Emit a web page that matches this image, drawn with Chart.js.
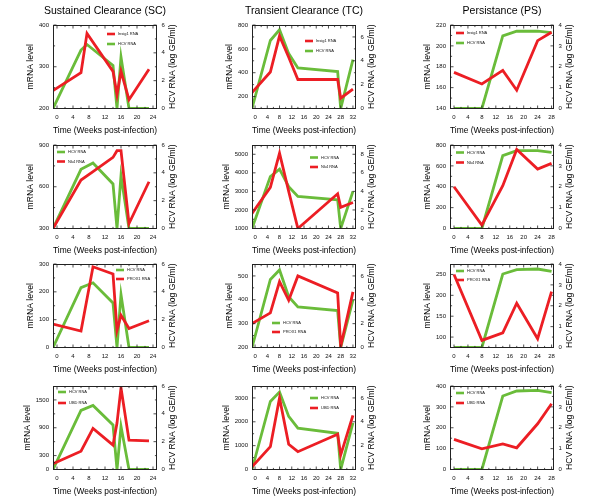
<!DOCTYPE html>
<html>
<head>
<meta charset="utf-8">
<script src="https://cdn.jsdelivr.net/npm/chart.js@4/dist/chart.umd.min.js"></script>
<style>
html, body { margin: 0; padding: 0; background: #fff; overflow: hidden; }
#wrap { position: relative; width: 600px; height: 500px; }
#wrap canvas { position: absolute; }
</style>
</head>
<body>
<div id="wrap"></div>
<script>
// time points (weeks post-infection) per group
const weeksSC1 = [-1, 6, 7.5, 14, 15, 16, 18, 23];
const weeksSC = [-1, 6, 9, 14, 15, 16, 18, 23];
const weeksTC = [-1, 5, 8, 11, 14, 27, 28, 32];
const weeksPS = [0, 8, 14, 18, 24, 28];

const xTicksSC = [0, 4, 8, 12, 16, 20, 24];
const xTicksTC = [0, 4, 8, 12, 16, 20, 24, 28, 32];
const xTicksPS = [0, 4, 8, 12, 16, 20, 24, 28];

// HCV RNA (log GE/ml), read per panel
const hcvSC1 = [0, 4.2, 4.6, 3.1, 0, 3.7, 0, 0];
const hcvSC2 = [0, 4.25, 4.7, 3.2, 0, 3.8, 0, 0];
const hcvSC3 = [0, 4.3, 4.65, 3.2, 0, 3.8, 0, 0];
const hcvSC4 = [0, 4.25, 4.6, 3.2, 0, 3.1, 0, 0];
const hcvTC1 = [0, 5.7, 6.6, 4.6, 3.4, 3.1, 0, 4.1];
const hcvTC2 = [0, 5.6, 6.4, 4.5, 3.45, 3.1, 0, 4.0];
const hcvTC3 = [0, 5.7, 6.5, 4.25, 3.4, 3.1, 0, 4.0];
const hcvTC4 = [0, 5.7, 6.5, 4.45, 3.46, 3.04, 0, 3.9];
const hcvPS1 = [0, 0, 3.48, 3.7, 3.71, 3.63];
const hcvPS2 = [0, 0, 3.49, 3.73, 3.73, 3.65];
const hcvPS3 = [0, 0, 3.52, 3.73, 3.76, 3.65];
const hcvPS4 = [0, 0, 3.52, 3.76, 3.79, 3.68];

// mRNA levels
const insigSC = [243, 286, 380, 289, 233, 289, 221, 294];
const nk4SC = [300, 648, 708, 811, 859, 859, 336, 636];
const prox1SC = [84, 59, 290, 264, 62, 116, 68, 96];
const ubdSC = [124, 393, 887, 524, 1000, 1760, 633, 618];
const insigTC = [234, 406, 709, 530, 343, 343, 186, 263];
const nk4TC = [1818, 3218, 5055, 3000, 1000, 2873, 2145, 2400];
const prox1TC = [300, 345, 476, 398, 500, 429, 205, 433];
const ubdTC = [113, 958, 3000, 1056, 746, 1479, 606, 2268];
const insigPS = [174.6, 163.5, 176.5, 157.5, 205, 213];
const nk4PS = [400, 32, 410, 758, 570, 624];
const prox1PS = [250, 92, 110, 181, 96, 209];
const ubdPS = [144, 99, 123, 104, 219, 315];

// y tick labels
const yTicksSC1 = [200, 300, 400];
const yTicksSC2 = [300, 600, 900];
const yTicksSC3 = [0, 100, 200, 300];
const yTicksSC4 = [0, 300, 900, 1500];
const yTicksTC1 = [200, 400, 600, 800];
const yTicksTC2 = [1000, 2000, 3000, 4000, 5000];
const yTicksTC3 = [200, 300, 400, 500];
const yTicksTC4 = [0, 1000, 2000, 3000];
const yTicksPS1 = [140, 160, 180, 200, 220];
const yTicksPS2 = [0, 200, 400, 600, 800];
const yTicksPS3 = [100, 150, 200, 250];
const yTicksPS4 = [0, 100, 200, 300, 400];
const hTicks6 = [0, 2, 4, 6];
const hTicks8 = [0, 2, 4, 6, 8];
const hTicks4 = [0, 1, 2, 3, 4];

const RED = 'rgb(236,30,36)';
const GREEN = 'rgb(106,188,58)';
const FONT = '"Liberation Sans", Arial, Helvetica, sans-serif';

const cols = [
  { title: 'Sustained Clearance (SC)', weeks: weeksSC, xMin: -1, xMax: 25, xTicks: xTicksSC, left: 1 },
  { title: 'Transient Clearance (TC)', weeks: weeksTC, xMin: -1, xMax: 33, xTicks: xTicksTC, left: 200 },
  { title: 'Persistance (PS)', weeks: weeksPS, xMin: -1.15, xMax: 28.7, xTicks: xTicksPS, left: 398 }
];
const rowTop = [0, 120, 239, 361];

const panels = [
  { col: 0, row: 0, gene: 'Insig1 RNA', weeks: weeksSC1, mrna: insigSC, hcv: hcvSC1, yMin: 200, yMax: 400, yTicks: yTicksSC1, hMax: 6, hTicks: hTicks6, lx: 54, ly: [9, 19], redFirst: true },
  { col: 1, row: 0, gene: 'Insig1 RNA', mrna: insigTC, hcv: hcvTC1, yMin: 100, yMax: 800, yTicks: yTicksTC1, hMax: 7, hTicks: hTicks6, lx: 53, ly: [16, 26], redFirst: true },
  { col: 2, row: 0, gene: 'Insig1 RNA', mrna: insigPS, hcv: hcvPS1, yMin: 140, yMax: 220, yTicks: yTicksPS1, hMax: 4, hTicks: hTicks4, lx: 6, ly: [8, 18], redFirst: true },
  { col: 0, row: 1, gene: 'Nk4 RNA', mrna: nk4SC, hcv: hcvSC2, yMin: 300, yMax: 900, yTicks: yTicksSC2, hMax: 6, hTicks: hTicks6, lx: 4, ly: [7, 16.5] },
  { col: 1, row: 1, gene: 'Nk4 RNA', mrna: nk4TC, hcv: hcvTC2, yMin: 1000, yMax: 5500, yTicks: yTicksTC2, hMax: 9, hTicks: hTicks8, lx: 58, ly: [12.5, 22] },
  { col: 2, row: 1, gene: 'Nk4 RNA', mrna: nk4PS, hcv: hcvPS2, yMin: 0, yMax: 800, yTicks: yTicksPS2, hMax: 4, hTicks: hTicks4, lx: 6, ly: [7.5, 17.5] },
  { col: 0, row: 2, gene: 'PROX1 RNA', mrna: prox1SC, hcv: hcvSC3, yMin: 0, yMax: 300, yTicks: yTicksSC3, hMax: 6, hTicks: hTicks6, lx: 63, ly: [6, 15] },
  { col: 1, row: 2, gene: 'PROX1 RNA', mrna: prox1TC, hcv: hcvTC3, yMin: 200, yMax: 550, yTicks: yTicksTC3, hMax: 7, hTicks: hTicks6, lx: 20, ly: [59, 68] },
  { col: 2, row: 2, gene: 'PROX1 RNA', mrna: prox1PS, hcv: hcvPS3, yMin: 75, yMax: 275, yTicks: yTicksPS3, hMax: 4, hTicks: hTicks4, lx: 6, ly: [7, 16] },
  { col: 0, row: 3, gene: 'UBD RNA', mrna: ubdSC, hcv: hcvSC4, yMin: 0, yMax: 1800, yTicks: yTicksSC4, hMax: 6, hTicks: hTicks6, lx: 5, ly: [6, 17] },
  { col: 1, row: 3, gene: 'UBD RNA', mrna: ubdTC, hcv: hcvTC4, yMin: 0, yMax: 3500, yTicks: yTicksTC4, hMax: 7, hTicks: hTicks6, lx: 58, ly: [12, 22] },
  { col: 2, row: 3, gene: 'UBD RNA', mrna: ubdPS, hcv: hcvPS4, yMin: 0, yMax: 400, yTicks: yTicksPS4, hMax: 4, hTicks: hTicks4, lx: 6, ly: [7, 17] }
];

// frame, inward ticks, side titles, column title and in-plot legend
const deco = {
  id: 'deco',
  afterDatasetsDraw(chart, args, o) {
    const { ctx, chartArea: a, scales: { x, y, y1 } } = chart;
    ctx.save();
    const L = Math.round(a.left) + 0.5, R = Math.round(a.right) - 0.5;
    const T = Math.round(a.top) + 0.5, B = Math.round(a.bottom) - 0.5;
    ctx.strokeStyle = '#222';
    ctx.lineWidth = 1;
    ctx.strokeRect(L, T, R - L, B - T);

    ctx.lineWidth = 0.8;
    const line = (x1, y1_, x2, y2) => { ctx.beginPath(); ctx.moveTo(x1, y1_); ctx.lineTo(x2, y2); ctx.stroke(); };
    const marks = (scale, fn) => {
      const v = scale.ticks.map(t => t.value);
      v.forEach((val, i) => {
        fn(scale.getPixelForValue(val), 3);
        if (i < v.length - 1) fn(scale.getPixelForValue((val + v[i + 1]) / 2), 1.6);
      });
    };
    marks(x, (p, len) => { line(p, B, p, B - len); line(p, T, p, T + len); });
    marks(y, (p, len) => line(L, p, L + len, p));
    marks(y1, (p, len) => line(R, p, R - len, p));

    ctx.fillStyle = '#000';
    ctx.textAlign = 'center';
    ctx.textBaseline = 'middle';
    if (o.title) {
      ctx.font = '10.5px ' + FONT;
      ctx.fillText(o.title, (a.left + a.right) / 2, 11);
    }
    ctx.font = '6px ' + FONT;
    const wl = Math.max(...y.ticks.map(t => ctx.measureText(t.label).width));
    const wr = Math.max(...y1.ticks.map(t => ctx.measureText(t.label).width));
    ctx.font = '8.6px ' + FONT;
    const cy = (a.top + a.bottom) / 2;
    const rot = (txt, px) => { ctx.save(); ctx.translate(px, cy); ctx.rotate(-Math.PI / 2); ctx.fillText(txt, 0, 0); ctx.restore(); };
    rot('mRNA level', a.left - 4 - wl - 8);
    rot('HCV RNA (log GE/ml)', a.right + 4.5 + wr + 8);

    // legend
    const ds = chart.data.datasets;
    const items = o.redFirst ? [ds[0], ds[1]] : [ds[1], ds[0]];
    ctx.font = '4px ' + FONT;
    ctx.textAlign = 'left';
    items.forEach((d, i) => {
      const ly = a.top + o.ly[i];
      const lx = a.left + o.lx;
      ctx.strokeStyle = d.borderColor;
      ctx.lineWidth = 2.6;
      line(lx, ly, lx + 8, ly);
      ctx.fillStyle = '#111';
      ctx.fillText(d.label, lx + 11, ly);
    });
    ctx.restore();
  }
};

const tickFont = { size: 6, family: FONT };
const wrap = document.getElementById('wrap');

panels.forEach(p => {
  const c = cols[p.col];
  const weeks = p.weeks || c.weeks;
  const cv = document.createElement('canvas');
  cv.width = 200;
  cv.height = 138;
  cv.style.left = c.left + 'px';
  cv.style.top = rowTop[p.row] + 'px';
  wrap.appendChild(cv);

  new Chart(cv, {
    type: 'line',
    data: {
      datasets: [{
        label: p.gene,
        data: weeks.map((w, i) => ({ x: w, y: p.mrna[i] })),
        borderColor: RED,
        yAxisID: 'y'
      }, {
        label: 'HCV RNA',
        data: weeks.map((w, i) => ({ x: w, y: p.hcv[i] })),
        borderColor: GREEN,
        yAxisID: 'y1'
      }]
    },
    options: {
      responsive: false,
      animation: false,
      devicePixelRatio: 1,
      layout: { padding: { top: 25, left: 0, right: 0, bottom: 0 } },
      elements: {
        point: { radius: 0 },
        line: { tension: 0, borderWidth: 2.8, fill: false }
      },
      plugins: {
        legend: { display: false },
        tooltip: { enabled: false },
        deco: { title: p.row === 0 ? c.title : null, lx: p.lx, ly: p.ly, redFirst: !!p.redFirst }
      },
      scales: {
        x: {
          type: 'linear',
          min: c.xMin,
          max: c.xMax,
          afterBuildTicks: s => { s.ticks = c.xTicks.map(v => ({ value: v })); },
          afterFit: s => { s.height = 29.5; },
          ticks: { font: tickFont, color: '#111', padding: 5.5, autoSkip: false, maxRotation: 0, callback: v => String(v) },
          grid: { display: false, drawTicks: false },
          border: { display: false },
          title: { display: true, text: 'Time (Weeks post-infection)', color: '#000', font: { size: 8.6, family: FONT }, padding: { top: 0, bottom: 2.4 } }
        },
        y: {
          position: 'left',
          min: p.yMin,
          max: p.yMax,
          afterBuildTicks: s => { s.ticks = p.yTicks.map(v => ({ value: v })); },
          afterFit: s => { s.width = 52; },
          ticks: { font: tickFont, color: '#111', padding: 4, autoSkip: false, callback: v => String(v) },
          grid: { display: false, drawTicks: false },
          border: { display: false }
        },
        y1: {
          position: 'right',
          min: 0,
          max: p.hMax,
          afterBuildTicks: s => { s.ticks = p.hTicks.map(v => ({ value: v })); },
          afterFit: s => { s.width = 44; },
          ticks: { font: tickFont, color: '#111', padding: 4.5, autoSkip: false, callback: v => String(v) },
          grid: { display: false, drawTicks: false },
          border: { display: false }
        }
      }
    },
    plugins: [deco]
  });
});
</script>
</body>
</html>
